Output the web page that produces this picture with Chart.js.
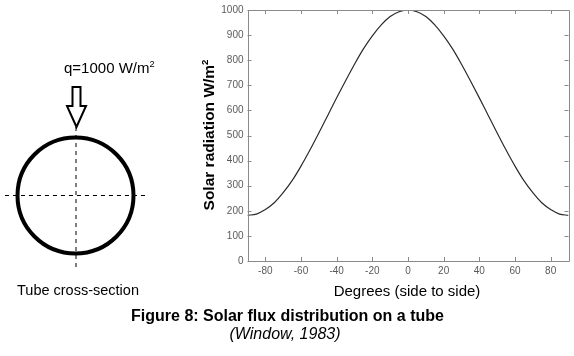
<!DOCTYPE html>
<html>
<head>
<meta charset="utf-8">
<script src="https://cdn.jsdelivr.net/npm/chart.js@4/dist/chart.umd.min.js"></script>
<style>
  html,body{margin:0;padding:0;background:#fff;}
  #wrap{position:relative;width:574px;height:356px;overflow:hidden;background:#fff;font-family:"Liberation Sans",Arial,sans-serif;}
  #c{position:absolute;left:0;top:0;}
  .t{position:absolute;white-space:nowrap;color:#000;line-height:1;}
  sup{font-size:0.62em;vertical-align:0;position:relative;top:-0.62em;}
</style>
</head>
<body>
<div id="wrap">
  <canvas id="c" width="574" height="356"></canvas>
  <svg style="position:absolute;left:0;top:0" width="200" height="300">
    <line x1="5" y1="195.5" x2="148" y2="195.5" stroke="#000" stroke-width="1" stroke-dasharray="4,4"/>
    <line x1="76" y1="127" x2="76" y2="267" stroke="#000" stroke-width="1" stroke-dasharray="4,4"/>
    <circle cx="75.5" cy="195.5" r="58" fill="none" stroke="#000" stroke-width="4"/>
    <path d="M72.5 87 L80.5 87 L80.5 106 L86 106 L76.5 127 L67 106 L72.5 106 Z" fill="#fff" stroke="#000" stroke-width="2" stroke-linejoin="miter"/>
  </svg>
  <div class="t" style="left:64px;top:60px;font-size:15px;">q=1000 W/m<sup>2</sup></div>
  <div class="t" style="left:17px;top:283px;font-size:14.5px;">Tube cross-section</div>
  <div class="t" id="ytitle" style="left:209px;top:135px;font-size:15.5px;font-weight:bold;transform:translate(-50%,-50%) rotate(-90deg);">Solar radiation W/m<sup>2</sup></div>
  <div class="t" style="left:407px;top:283px;font-size:15px;transform:translateX(-50%);">Degrees (side to side)</div>
  <div class="t" style="left:287.5px;top:308px;font-size:16px;font-weight:bold;transform:translateX(-50%);">Figure 8: Solar flux distribution on a tube</div>
  <div class="t" style="left:285px;top:326px;font-size:16px;font-style:italic;transform:translateX(-50%);">(Window, 1983)</div>
</div>
<script>
// Data
const degrees = [-90,-85,-80,-75,-70,-65,-60,-55,-50,-45,-40,-35,-30,-25,-20,-15,-10,-5,0,5,10,15,20,25,30,35,40,45,50,55,60,65,70,75,80,85,90];
const radiation = [182,187,205,232,272,320,378,442,510,580,650,718,784,845,897,941,974,993,1000,993,974,941,897,845,784,718,650,580,510,442,378,320,272,232,205,187,182];
const xTicks = [-80,-60,-40,-20,0,20,40,60,80];
const yTicks = [0,100,200,300,400,500,600,700,800,900,1000];

const points = degrees.map((d,i)=>({x:d,y:radiation[i]}));

const frame = {
  id:'frame',
  afterDraw(chart){
    const {ctx, chartArea:a, scales} = chart;
    ctx.save();
    ctx.strokeStyle = '#8a8a8a';
    ctx.lineWidth = 1;
    ctx.beginPath();
    ctx.rect(Math.round(a.left)+0.5, Math.round(a.top)+0.5, Math.round(a.right-a.left), Math.round(a.bottom-a.top));
    const L = 4;
    scales.x.ticks.forEach(t=>{
      const px = Math.round(scales.x.getPixelForValue(t.value))+0.5;
      ctx.moveTo(px, a.bottom); ctx.lineTo(px, a.bottom-L);
      ctx.moveTo(px, a.top); ctx.lineTo(px, a.top+L);
    });
    scales.y.ticks.forEach(t=>{
      const py = Math.round(scales.y.getPixelForValue(t.value))+0.5;
      ctx.moveTo(a.left, py); ctx.lineTo(a.left+L, py);
      ctx.moveTo(a.right, py); ctx.lineTo(a.right-L, py);
    });
    ctx.stroke();
    ctx.restore();
  }
};

const tickFont = {family:'"Liberation Sans", Arial, sans-serif',size:10};

new Chart(document.getElementById('c'), {
  type:'line',
  data:{datasets:[{
    data:points,
    borderColor:'#2b2b2b',
    borderWidth:1.2,
    pointRadius:0,
    cubicInterpolationMode:'monotone',
    fill:false
  }]},
  options:{
    responsive:false,
    animation:false,
    devicePixelRatio:1,
    plugins:{legend:{display:false},tooltip:{enabled:false}},
    layout:{padding:{left:200,top:9,right:5.5,bottom:65}},
    scales:{
      x:{
        type:'linear',min:-90,max:90,
        afterBuildTicks(s){ s.ticks = xTicks.map(v=>({value:v})); },
        afterFit(s){ s.height = 30; },
        grid:{display:false,drawTicks:false},
        border:{display:false},
        ticks:{padding:4,color:'#5a5a5a',font:tickFont,maxRotation:0,autoSkip:false,callback:v=>String(v)}
      },
      y:{
        type:'linear',min:0,max:1000,
        afterBuildTicks(s){ s.ticks = yTicks.map(v=>({value:v})); },
        afterFit(s){ s.width = 47.5; },
        grid:{display:false,drawTicks:false},
        border:{display:false},
        ticks:{padding:4,color:'#5a5a5a',font:tickFont,autoSkip:false,callback:v=>String(v)}
      }
    }
  },
  plugins:[frame]
});
</script>
</body>
</html>
